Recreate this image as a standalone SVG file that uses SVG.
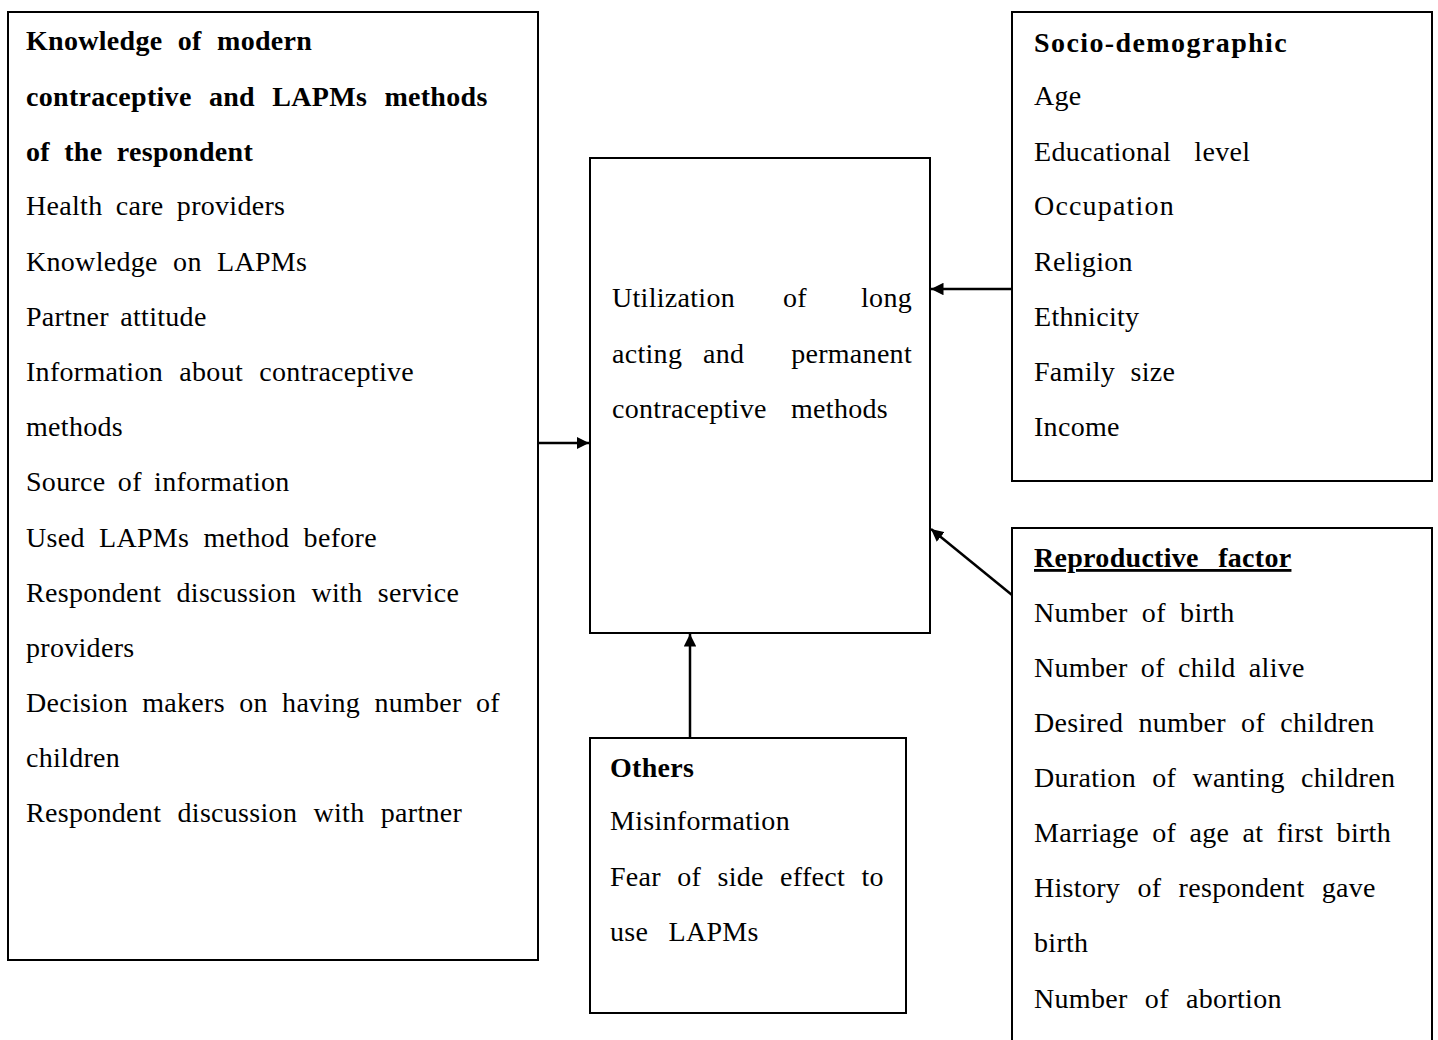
<svg xmlns="http://www.w3.org/2000/svg" width="1438" height="1040" viewBox="0 0 1438 1040">
<style>
.box{fill:#fff;stroke:#000;stroke-width:2}
text{font-family:"Liberation Serif","Times New Roman",serif;font-size:28px;fill:#000;letter-spacing:0.3px}
.b{font-weight:bold}
.c{stroke:#000;stroke-width:2.5;fill:none}
</style>
<defs>
<marker id="ah" viewBox="0 0 10 10" refX="10" refY="5" markerWidth="5" markerHeight="5" orient="auto" markerUnits="strokeWidth">
<path d="M0,0 L10,5 L0,10 z" fill="#000"/>
</marker>
</defs>
<rect width="1438" height="1040" fill="#fff"/>
<g id="knowledge">
<rect class="box" x="8" y="12" width="530" height="948"/>
<text class="b" x="26" y="50" word-spacing="8">Knowledge of modern</text>
<text class="b" x="26" y="106" word-spacing="10">contraceptive and LAPMs methods</text>
<text class="b" x="26" y="161" word-spacing="7">of the respondent</text>
<text x="26" y="215" word-spacing="6">Health care providers</text>
<text x="26" y="271" word-spacing="8">Knowledge on LAPMs</text>
<text x="26" y="326" word-spacing="4">Partner attitude</text>
<text x="26" y="381" word-spacing="9">Information about contraceptive</text>
<text x="26" y="436">methods</text>
<text x="26" y="491" word-spacing="5">Source of information</text>
<text x="26" y="547" word-spacing="7">Used LAPMs method before</text>
<text x="26" y="602" word-spacing="8">Respondent discussion with service</text>
<text x="26" y="657">providers</text>
<text x="26" y="712" word-spacing="7">Decision makers on having number of</text>
<text x="26" y="767">children</text>
<text x="26" y="822" word-spacing="9">Respondent discussion with partner</text>
</g>
<g id="utilization">
<rect class="box" x="590" y="158" width="340" height="475"/>
<text x="612" y="307">Utilization</text>
<text x="783" y="307">of</text>
<text x="912" y="307" text-anchor="end">long</text>
<text x="612" y="363">acting</text>
<text x="703" y="363">and</text>
<text x="912" y="363" text-anchor="end">permanent</text>
<text x="612" y="418" word-spacing="17">contraceptive methods</text>
</g>
<g id="socio">
<rect class="box" x="1012" y="12" width="420" height="469"/>
<text class="b" x="1034" y="52" textLength="253" lengthAdjust="spacing">Socio-demographic</text>
<text x="1034" y="105">Age</text>
<text x="1034" y="161" word-spacing="16">Educational level</text>
<text x="1034" y="215" textLength="140" lengthAdjust="spacing">Occupation</text>
<text x="1034" y="271">Religion</text>
<text x="1034" y="326">Ethnicity</text>
<text x="1034" y="381" word-spacing="8">Family size</text>
<text x="1034" y="436">Income</text>
</g>
<g id="reproductive">
<rect class="box" x="1012" y="528" width="420" height="530"/>
<text class="b" x="1034" y="567" text-decoration="underline" word-spacing="12" letter-spacing="0.8">Reproductive factor</text>
<text x="1034" y="622" word-spacing="7">Number of birth</text>
<text x="1034" y="677" word-spacing="6">Number of child alive</text>
<text x="1034" y="732" word-spacing="8">Desired number of children</text>
<text x="1034" y="787" word-spacing="9">Duration of wanting children</text>
<text x="1034" y="842" word-spacing="6">Marriage of age at first birth</text>
<text x="1034" y="897" word-spacing="10">History of respondent gave</text>
<text x="1034" y="952">birth</text>
<text x="1034" y="1008" word-spacing="10">Number of abortion</text>
</g>
<g id="others">
<rect class="box" x="590" y="738" width="316" height="275"/>
<text class="b" x="610" y="777" letter-spacing="1">Others</text>
<text x="610" y="830" letter-spacing="1">Misinformation</text>
<text x="610" y="886" word-spacing="9">Fear of side effect to</text>
<text x="610" y="941" word-spacing="13">use LAPMs</text>
</g>
<g id="connectors">
<line class="c" x1="538" y1="443" x2="589" y2="443" marker-end="url(#ah)"/>
<line class="c" x1="1012" y1="289" x2="931" y2="289" marker-end="url(#ah)"/>
<line class="c" x1="1012" y1="595" x2="931" y2="529" marker-end="url(#ah)"/>
<line class="c" x1="690" y1="738" x2="690" y2="634" marker-end="url(#ah)"/>
</g>
</svg>
